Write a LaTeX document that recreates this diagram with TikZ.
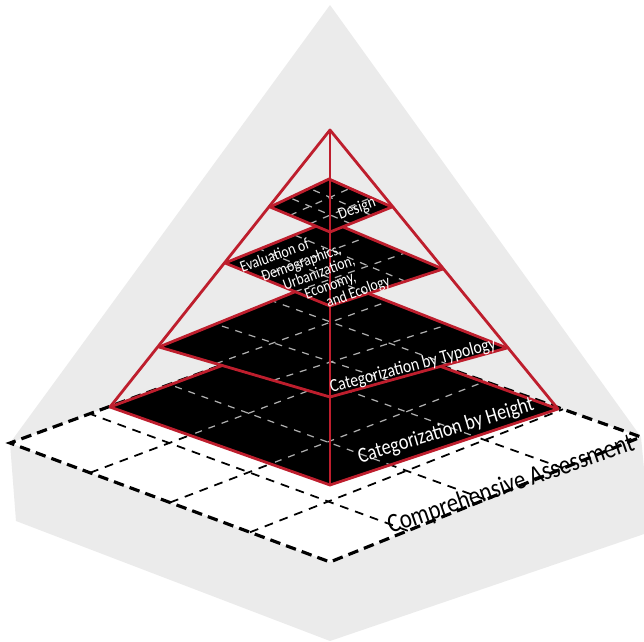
\documentclass[tikz,border=0pt]{standalone}
\usepackage{fontspec}
\setmainfont{Carlito}[FakeStretch=0.85]
\usepackage{xcolor}
\usepackage{tikz}
\usetikzlibrary{calc}
\definecolor{pyrred}{RGB}{190, 30, 45}
\definecolor{backgray}{RGB}{235, 235, 235}
\definecolor{gridgray}{RGB}{175, 175, 175}
\tikzset{
    layer/.style={draw=pyrred, line width=1.6pt, line join=round},
    pyredge/.style={draw=pyrred, line width=1.6pt, line cap=round},
    baserim/.style={black, line width=1.8pt, dash pattern=on 6pt off 3.5pt},
    basegrid/.style={black, line width=1pt, dash pattern=on 5pt off 4pt},
    layergrid/.style={gridgray, line width=0.7pt, dash pattern=on 4pt off 4pt},
    baselabel/.style={text=black, font=\fontsize{15.3}{17}\selectfont, inner sep=0pt},
    layerlabel/.style={text=white, font=\fontsize{#1}{#1}\selectfont, inner sep=0pt},
}

\begin{document}
\begin{tikzpicture}[x=0.02cm, y=-0.02cm]
    \useasboundingbox (0,0) rectangle (644,641);

    % Background silhouette
    \fill[backgray] (330,5) -- (10,443) -- (16,521) -- (330,641)
        -- (650,532) -- (641,437) -- cycle;

    % Base plate
    \coordinate (bL) at (10,443);
    \coordinate (bF) at (330,562);
    \coordinate (bR) at (641,437);
    \coordinate (bB) at (329,326);
    \fill[white] (bL) -- (bF) -- (bR) -- (bB) -- cycle;
    \foreach \t in {0.25,0.5,0.75}{
        \draw[basegrid] ($(bF)!\t!(bR)$) -- ($(bL)!\t!(bB)$);
        \draw[basegrid] ($(bF)!\t!(bL)$) -- ($(bR)!\t!(bB)$);
    }
    \draw[baserim] (bB) -- (bL) -- (bF) -- (bR) -- cycle;

    % Layer corners (left, front, right, back)
    \coordinate (apex) at (330,130);
    \foreach \i/\lx/\ly/\fy/\rx/\ry/\by in {1/110/407/485/558/409/326,
            2/159/347/397/507/348/278, 3/225/263/306/443/269/221,
            4/270/207/232/392/207/179}{
        \coordinate (l\i L) at (\lx,\ly);
        \coordinate (l\i F) at (330,\fy);
        \coordinate (l\i R) at (\rx,\ry);
        \coordinate (l\i B) at (329,\by);
    }

    % Bottom layer, base grid runs through it
    \fill[black] (l1L) -- (l1F) -- (l1R) -- (l1B) -- cycle;
    \begin{scope}
        \clip (l1L) -- (l1F) -- (l1R) -- (l1B) -- cycle;
        \foreach \t in {0.25,0.5,0.75}{
            \draw[layergrid] ($(bF)!\t!(bR)$) -- ($(bL)!\t!(bB)$);
            \draw[layergrid] ($(bF)!\t!(bL)$) -- ($(bR)!\t!(bB)$);
        }
    \end{scope}
    \draw[layer] (l1L) -- (l1F) -- (l1R) -- (l1B) -- cycle;

    % Upper layers
    \foreach \i in {2,3,4}{
        \fill[black] (l\i L) -- (l\i F) -- (l\i R) -- (l\i B) -- cycle;
        \begin{scope}
            \clip (l\i L) -- (l\i F) -- (l\i R) -- (l\i B) -- cycle;
            \foreach \t in {0.333,0.667}{
                \draw[layergrid] ($(l\i F)!\t!(l\i R)$) -- ($(l\i L)!\t!(l\i B)$);
                \draw[layergrid] ($(l\i F)!\t!(l\i L)$) -- ($(l\i R)!\t!(l\i B)$);
            }
        \end{scope}
        \draw[layer] (l\i L) -- (l\i F) -- (l\i R) -- (l\i B) -- cycle;
    }

    % Pyramid edges
    \draw[pyredge] (apex) -- (l1L);
    \draw[pyredge] (apex) -- (l1R);
    \draw[pyredge] (apex) -- (l1F);

    % Labels
    \node[baselabel, rotate=19] (assess) at (511,485) {Comprehensive Assessment};
    \node[layerlabel=12.3, rotate=17] (height) at (446,431) {Categorization by Height};
    \node[layerlabel=10.5, rotate=15] (typology) at (413,366) {Categorization by Typology};
    \node[layerlabel=9.4, rotate=20] (design) at (357,209) {Design};
    \node[layerlabel=9.2, rotate=20, anchor=base west] (eval1) at (242,273) {Evaluation of};
    \node[layerlabel=9.2, rotate=20, anchor=base west] (eval2) at (263.5,281.75) {Demographics,};
    \node[layerlabel=9.2, rotate=20, anchor=base west] (eval3) at (285,290.5) {Urbanization,};
    \node[layerlabel=9.2, rotate=20, anchor=base west] (eval4) at (306.5,299.25) {Economy,};
    \node[layerlabel=9.2, rotate=20, anchor=base west] (eval5) at (328,308) {and Ecology};
\end{tikzpicture}
\end{document}
